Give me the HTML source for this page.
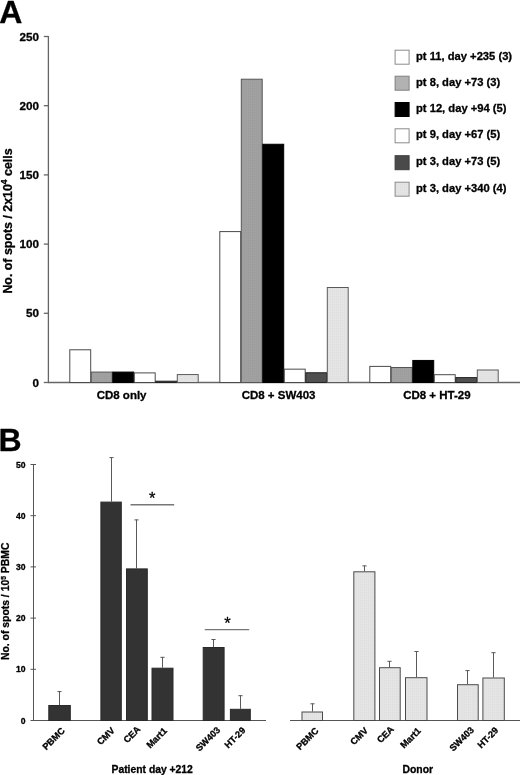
<!DOCTYPE html>
<html lang="en"><head><meta charset="utf-8"><title>Figure</title>
<style>
html,body{margin:0;padding:0;background:#fff;}
body{width:520px;height:775px;overflow:hidden;}
svg{display:block;will-change:transform;}
text{font-family:"Liberation Sans", Arial, Helvetica, sans-serif;font-weight:bold;fill:#000;stroke:#000;stroke-width:0.3px;stroke-linejoin:round;}
</style></head><body>
<svg width="520" height="775" viewBox="0 0 520 775">
<defs>
<pattern id="pg" width="2" height="2" patternUnits="userSpaceOnUse"><rect width="2" height="2" fill="#a1a1a1"/><rect width="1" height="1" fill="#9b9b9b"/></pattern>
<pattern id="pl" width="2" height="2" patternUnits="userSpaceOnUse"><rect width="2" height="2" fill="#e4e4e4"/><rect width="1" height="1" fill="#dedede"/></pattern>
</defs>
<rect width="520" height="775" fill="#fff"/>

<text x="-0.8" y="22.7" font-size="32">A</text>
<g stroke="#666" stroke-width="1.3" fill="none">
<line x1="48.4" y1="36.0" x2="48.4" y2="383.0"/>
<line x1="47.9" y1="382.5" x2="520" y2="382.5"/>
<line x1="43.8" y1="382.50" x2="48.4" y2="382.50"/>
<line x1="43.8" y1="313.30" x2="48.4" y2="313.30"/>
<line x1="43.8" y1="244.10" x2="48.4" y2="244.10"/>
<line x1="43.8" y1="174.90" x2="48.4" y2="174.90"/>
<line x1="43.8" y1="105.70" x2="48.4" y2="105.70"/>
<line x1="43.8" y1="36.50" x2="48.4" y2="36.50"/>
</g>
<text x="38.9" y="386.50" font-size="11.7" text-anchor="end">0</text>
<text x="38.9" y="317.30" font-size="11.7" text-anchor="end">50</text>
<text x="38.9" y="248.10" font-size="11.7" text-anchor="end">100</text>
<text x="38.9" y="178.90" font-size="11.7" text-anchor="end">150</text>
<text x="38.9" y="109.70" font-size="11.7" text-anchor="end">200</text>
<text x="38.9" y="40.50" font-size="11.7" text-anchor="end">250</text>
<text transform="translate(11.6,221) rotate(-90)" font-size="12.4" text-anchor="middle">No. of spots / 2x10<tspan dy="-4.5" font-size="8.5">4</tspan><tspan dy="4.5"> cells</tspan></text>
<rect x="69.80" y="349.78" width="20.90" height="32.72" fill="#fff" stroke="#4a4a4a" stroke-width="1"/>
<rect x="91.30" y="372.07" width="20.90" height="10.43" fill="url(#pg)" stroke="#555" stroke-width="1"/>
<rect x="112.80" y="372.07" width="20.90" height="10.43" fill="#000" stroke="#000" stroke-width="1"/>
<rect x="134.30" y="372.90" width="20.90" height="9.60" fill="#fff" stroke="#4a4a4a" stroke-width="1"/>
<rect x="155.80" y="381.20" width="20.90" height="1.30" fill="#505050" stroke="#222" stroke-width="1"/>
<rect x="177.30" y="374.56" width="20.90" height="7.94" fill="url(#pl)" stroke="#5a5a5a" stroke-width="1"/>
<text x="121.6" y="399.1" font-size="11.5" text-anchor="middle">CD8 only</text>
<rect x="219.80" y="231.59" width="20.90" height="150.91" fill="#fff" stroke="#4a4a4a" stroke-width="1"/>
<rect x="241.30" y="79.21" width="20.90" height="303.29" fill="url(#pg)" stroke="#555" stroke-width="1"/>
<rect x="262.80" y="144.26" width="20.90" height="238.24" fill="#000" stroke="#000" stroke-width="1"/>
<rect x="284.30" y="369.16" width="20.90" height="13.34" fill="#fff" stroke="#4a4a4a" stroke-width="1"/>
<rect x="305.80" y="372.76" width="20.90" height="9.74" fill="#505050" stroke="#222" stroke-width="1"/>
<rect x="327.30" y="287.50" width="20.90" height="95.00" fill="url(#pl)" stroke="#5a5a5a" stroke-width="1"/>
<text x="278.6" y="399.1" font-size="11.5" text-anchor="middle">CD8 + SW403</text>
<rect x="369.80" y="366.39" width="20.90" height="16.11" fill="#fff" stroke="#4a4a4a" stroke-width="1"/>
<rect x="391.30" y="367.50" width="20.90" height="15.00" fill="url(#pg)" stroke="#555" stroke-width="1"/>
<rect x="412.80" y="360.44" width="20.90" height="22.06" fill="#000" stroke="#000" stroke-width="1"/>
<rect x="434.30" y="374.70" width="20.90" height="7.80" fill="#fff" stroke="#4a4a4a" stroke-width="1"/>
<rect x="455.80" y="377.60" width="20.90" height="4.90" fill="#505050" stroke="#222" stroke-width="1"/>
<rect x="477.30" y="369.99" width="20.90" height="12.51" fill="url(#pl)" stroke="#5a5a5a" stroke-width="1"/>
<text x="436.9" y="399.1" font-size="11.5" text-anchor="middle">CD8 + HT-29</text>
<rect x="395.1" y="50.2" width="14" height="14" fill="#fff" stroke="#8a8a8a" stroke-width="1"/>
<text x="416.0" y="59.8" font-size="11.2">pt 11, day +235 (3)</text>
<rect x="395.1" y="76.2" width="14" height="14" fill="#b2b2b2" stroke="#808080" stroke-width="1"/>
<text x="416.0" y="85.8" font-size="11.2">pt 8, day +73 (3)</text>
<rect x="395.1" y="102.5" width="14" height="14" fill="#000" stroke="#000" stroke-width="1"/>
<text x="416.0" y="112.1" font-size="11.2">pt 12, day +94 (5)</text>
<rect x="395.1" y="128.8" width="14" height="14" fill="#fff" stroke="#8a8a8a" stroke-width="1"/>
<text x="416.0" y="138.4" font-size="11.2">pt 9, day +67 (5)</text>
<rect x="395.1" y="155.7" width="14" height="14" fill="#4a4a4a" stroke="#3c3c3c" stroke-width="1"/>
<text x="416.0" y="165.3" font-size="11.2">pt 3, day +73 (5)</text>
<rect x="395.1" y="182.2" width="14" height="14" fill="url(#pl)" stroke="#8a8a8a" stroke-width="1"/>
<text x="416.0" y="191.8" font-size="11.2">pt 3, day +340 (4)</text>
<text x="-1.4" y="450.5" font-size="32">B</text>
<g stroke="#555" stroke-width="1" fill="none">
<line x1="33.5" y1="464.0" x2="33.5" y2="721.0"/>
<line x1="33.0" y1="720.5" x2="266" y2="720.5"/>
<line x1="290" y1="720.5" x2="520" y2="720.5"/>
<line x1="30.5" y1="720.50" x2="36.0" y2="720.50"/>
<line x1="30.5" y1="669.30" x2="36.0" y2="669.30"/>
<line x1="30.5" y1="618.10" x2="36.0" y2="618.10"/>
<line x1="30.5" y1="566.90" x2="36.0" y2="566.90"/>
<line x1="30.5" y1="515.70" x2="36.0" y2="515.70"/>
<line x1="30.5" y1="464.50" x2="36.0" y2="464.50"/>
</g>
<text x="25.5" y="723.60" font-size="8.6" text-anchor="end">0</text>
<text x="25.5" y="671.70" font-size="8.6" text-anchor="end">10</text>
<text x="25.5" y="621.20" font-size="8.6" text-anchor="end">20</text>
<text x="25.5" y="570.00" font-size="8.6" text-anchor="end">30</text>
<text x="25.5" y="518.80" font-size="8.6" text-anchor="end">40</text>
<text x="25.5" y="467.60" font-size="8.6" text-anchor="end">50</text>
<text transform="translate(9.4,601.3) rotate(-90)" font-size="10.4" text-anchor="middle">No. of spots / 10<tspan dy="-3.6" font-size="6.8">5</tspan><tspan dy="3.6"> PBMC</tspan></text>
<path d="M59.50 705.00V691.30M57.40 691.60H61.60" stroke="#5a5a5a" stroke-width="1" fill="none"/>
<rect x="48.80" y="705.50" width="21.50" height="15.00" fill="#333" stroke="#2a2a2a" stroke-width="1"/>
<text transform="translate(65.35,731.40) rotate(-45)" font-size="9.2" text-anchor="end">PBMC</text>
<path d="M111.50 501.60V457.30M109.40 457.60H113.60" stroke="#5a5a5a" stroke-width="1" fill="none"/>
<rect x="100.90" y="502.10" width="20.40" height="218.40" fill="#333" stroke="#2a2a2a" stroke-width="1"/>
<text transform="translate(115.25,731.15) rotate(-45)" font-size="9.2" text-anchor="end">CMV</text>
<path d="M136.50 568.40V519.60M134.40 519.90H138.60" stroke="#5a5a5a" stroke-width="1" fill="none"/>
<rect x="126.50" y="568.90" width="20.80" height="151.60" fill="#333" stroke="#2a2a2a" stroke-width="1"/>
<text transform="translate(140.95,729.90) rotate(-45)" font-size="9.2" text-anchor="end">CEA</text>
<path d="M162.50 667.70V657.00M160.40 657.30H164.60" stroke="#5a5a5a" stroke-width="1" fill="none"/>
<rect x="152.00" y="668.20" width="21.00" height="52.30" fill="#333" stroke="#2a2a2a" stroke-width="1"/>
<text transform="translate(167.50,731.50) rotate(-45)" font-size="9.2" text-anchor="end">Mart1</text>
<path d="M213.50 647.00V639.20M211.40 639.50H215.60" stroke="#5a5a5a" stroke-width="1" fill="none"/>
<rect x="203.20" y="647.50" width="20.90" height="73.00" fill="#333" stroke="#2a2a2a" stroke-width="1"/>
<text transform="translate(220.85,730.55) rotate(-45)" font-size="9.2" text-anchor="end">SW403</text>
<path d="M240.50 708.80V695.40M238.40 695.70H242.60" stroke="#5a5a5a" stroke-width="1" fill="none"/>
<rect x="230.40" y="709.30" width="19.90" height="11.20" fill="#333" stroke="#2a2a2a" stroke-width="1"/>
<text transform="translate(246.00,730.95) rotate(-45)" font-size="9.2" text-anchor="end">HT-29</text>
<path d="M312.50 711.50V703.50M310.40 703.80H314.60" stroke="#5a5a5a" stroke-width="1" fill="none"/>
<rect x="302.00" y="712.00" width="20.50" height="8.50" fill="url(#pl)" stroke="#4a4a4a" stroke-width="1"/>
<text transform="translate(319.20,731.40) rotate(-45)" font-size="9.2" text-anchor="end">PBMC</text>
<path d="M364.50 571.30V565.60M362.40 565.90H366.60" stroke="#5a5a5a" stroke-width="1" fill="none"/>
<rect x="353.80" y="571.80" width="21.10" height="148.70" fill="url(#pl)" stroke="#4a4a4a" stroke-width="1"/>
<text transform="translate(368.55,731.15) rotate(-45)" font-size="9.2" text-anchor="end">CMV</text>
<path d="M389.50 667.20V661.00M387.40 661.30H391.60" stroke="#5a5a5a" stroke-width="1" fill="none"/>
<rect x="379.50" y="667.70" width="20.70" height="52.80" fill="url(#pl)" stroke="#4a4a4a" stroke-width="1"/>
<text transform="translate(394.45,729.90) rotate(-45)" font-size="9.2" text-anchor="end">CEA</text>
<path d="M416.50 677.20V651.20M414.40 651.50H418.60" stroke="#5a5a5a" stroke-width="1" fill="none"/>
<rect x="405.50" y="677.70" width="21.50" height="42.80" fill="url(#pl)" stroke="#4a4a4a" stroke-width="1"/>
<text transform="translate(421.45,731.50) rotate(-45)" font-size="9.2" text-anchor="end">Mart1</text>
<path d="M467.50 684.20V670.30M465.40 670.60H469.60" stroke="#5a5a5a" stroke-width="1" fill="none"/>
<rect x="457.50" y="684.70" width="20.70" height="35.80" fill="url(#pl)" stroke="#4a4a4a" stroke-width="1"/>
<text transform="translate(474.50,730.55) rotate(-45)" font-size="9.2" text-anchor="end">SW403</text>
<path d="M493.50 677.50V652.40M491.40 652.70H495.60" stroke="#5a5a5a" stroke-width="1" fill="none"/>
<rect x="482.90" y="678.00" width="21.40" height="42.50" fill="url(#pl)" stroke="#4a4a4a" stroke-width="1"/>
<text transform="translate(498.95,730.95) rotate(-45)" font-size="9.2" text-anchor="end">HT-29</text>
<g stroke="#777" stroke-width="1.4"><line x1="130.5" y1="504.7" x2="174.2" y2="504.7"/><line x1="204.8" y1="629.6" x2="249.2" y2="629.6"/></g>
<text x="152.3" y="503.9" font-size="16.5" text-anchor="middle" style="font-weight:normal">*</text>
<text x="227.4" y="628.6" font-size="16.5" text-anchor="middle" style="font-weight:normal">*</text>
<text x="152.2" y="773.2" font-size="10.35" text-anchor="middle">Patient day +212</text>
<text x="417.8" y="773.1" font-size="10.4" text-anchor="middle">Donor</text>
</svg></body></html>
